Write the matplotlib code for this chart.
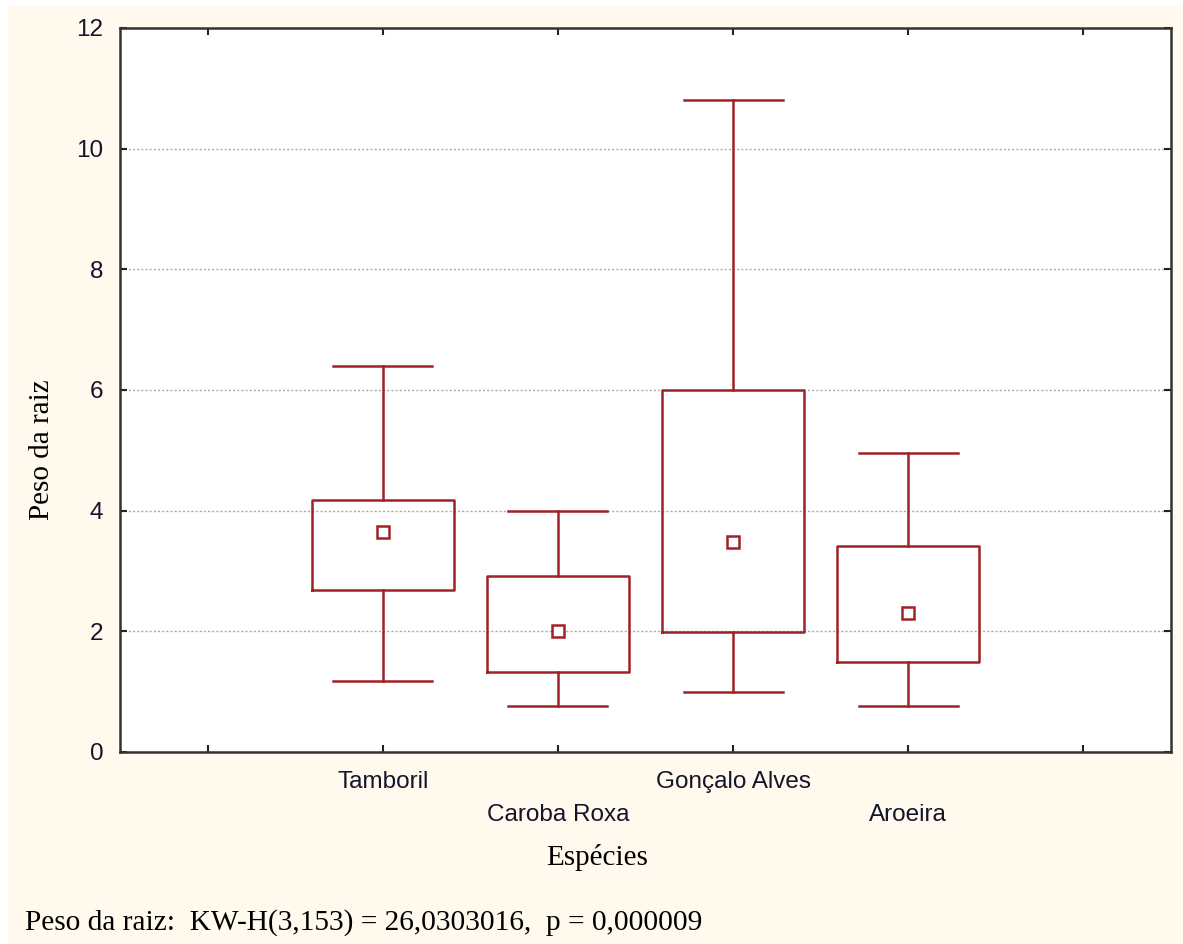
import matplotlib.pyplot as plt
from matplotlib.patches import Rectangle

species = ['Tamboril', 'Caroba Roxa', 'Gonçalo Alves', 'Aroeira']
median = [3.65, 2.01, 3.48, 2.30]
q1 = [2.69, 1.33, 1.99, 1.49]
q3 = [4.18, 2.92, 6.00, 3.41]
vmin = [1.17, 0.76, 0.99, 0.76]
vmax = [6.39, 3.99, 10.80, 4.96]
footer = 'Peso da raiz:  KW-H(3,153) = 26,0303016,  p = 0,000009'

red = '#a02226'
cream = '#fff9ee'
sans = ['Liberation Sans', 'DejaVu Sans']
serif = ['Liberation Serif', 'DejaVu Serif']

fig = plt.figure(figsize=(11.83, 9.44), dpi=100, facecolor='white')
fig.patches.append(Rectangle((8/1183, 0), 1, 1 - 5/944, transform=fig.transFigure,
                             facecolor=cream, edgecolor='none', zorder=-10))
ax = fig.add_axes([120/1183, 192/944, 1051/1183, 724/944])
ax.set_facecolor('white')

pos = list(range(1, len(species) + 1))
stats = []
for i in range(len(species)):
    stats.append({'med': median[i], 'q1': q1[i], 'q3': q3[i],
                  'whislo': vmin[i], 'whishi': vmax[i], 'fliers': []})

lp = dict(color=red, linewidth=1.8)
ax.bxp(stats, positions=pos, widths=0.81, capwidths=0.565, showfliers=False,
       boxprops=lp, whiskerprops=lp, capprops=lp,
       medianprops=dict(linewidth=0), manage_ticks=False)
ax.plot(pos, median, 's', markersize=8, markerfacecolor='white',
        markeredgecolor=red, markeredgewidth=1.8, linestyle='none')

ax.set_xlim(-0.5, 5.5)
ax.set_ylim(0, 12)
ax.set_yticks([0, 2, 4, 6, 8, 10, 12])
ax.set_xticks([0, 1, 2, 3, 4, 5])
ax.set_xticklabels(['', species[0], '\n' + species[1], species[2], '\n' + species[3], ''])
ax.yaxis.grid(True, color='#aaaaaa', linestyle=(0, (1.5, 1.5)), linewidth=1.0)
ax.set_axisbelow(True)
ax.tick_params(direction='in', length=5, width=1.5, top=True, right=True, colors='#222222')
ax.tick_params(axis='y', pad=12)
ax.tick_params(axis='x', pad=14)
for lab in ax.get_xticklabels() + ax.get_yticklabels():
    lab.set_family(sans)
    lab.set_fontsize(17.5)
    lab.set_color('#14142a')
    lab.set_linespacing(1.6)
for s in ax.spines.values():
    s.set_linewidth(1.8)
    s.set_color('#333333')

ax.set_ylabel('Peso da raiz', family=serif, fontsize=21)
ax.yaxis.set_label_coords(-0.062, 0.418)
ax.set_xlabel('Espécies', family=serif, fontsize=21, va='center')
ax.xaxis.set_label_coords(0.454, -0.146)
fig.text(25/1183, 1 - 923/944, footer, family=serif, fontsize=21.2, ha='left', va='center')

plt.savefig('out.png', dpi=100, facecolor=fig.get_facecolor())
